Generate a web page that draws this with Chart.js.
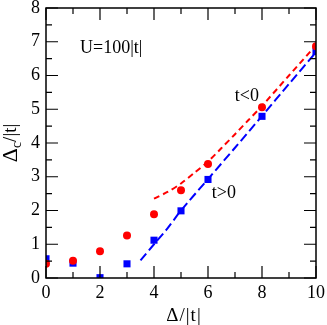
<!DOCTYPE html>
<html>
<head>
<meta charset="utf-8">
<script src="https://cdn.jsdelivr.net/npm/chart.js@4"></script>
<style>
  body { margin: 0; background: #fff; }
  #wrap { width: 327px; height: 325px; }
</style>
</head>
<body>
<div id="wrap"><canvas id="c" width="327" height="325"></canvas></div>
<script>
// data
const deltaPts = [0, 1, 2, 3, 4, 5, 6, 8, 10];
const negT = [0.42, 0.51, 0.79, 1.26, 1.89, 2.6, 3.38, 5.06, 6.87];   // t<0, red circles
const posT = [0.57, 0.44, 0.01, 0.42, 1.12, 1.99, 2.92, 4.79, 6.71];  // t>0, blue squares

const negCurveX = [4, 4.5, 5, 5.5, 6, 6.5, 7, 7.5, 8, 9, 10];
const negCurveY = [2.35, 2.55, 2.8, 3.12, 3.45, 3.85, 4.26, 4.68, 5.1, 6.0, 6.9];
const posCurveX = [3.5, 4, 4.5, 5, 6, 7, 8, 9, 10];
const posCurveY = [0.52, 1.0, 1.47, 2.0, 2.93, 3.86, 4.8, 5.75, 6.69];

const xTicks = [0, 2, 4, 6, 8, 10];
const yTicks = [0, 1, 2, 3, 4, 5, 6, 7, 8];
const xMinor = [1, 3, 5, 7, 9];
const yMinor = [0.5, 1.5, 2.5, 3.5, 4.5, 5.5, 6.5, 7.5];

const labels = [
  { text: "U=100|t|", x: 1.26, y: 6.81, align: "left" },
  { text: "t<0", x: 7.44, y: 5.39, align: "center" },
  { text: "t>0", x: 6.59, y: 2.52, align: "center" },
];

const FONT = "'Liberation Serif', 'DejaVu Serif', serif";

const toXY = (xs, ys) => xs.map((x, i) => ({ x: x, y: ys[i] }));

// frame, inward ticks, axis titles and text labels
const framePlugin = {
  id: "frame",
  afterDraw(chart) {
    const { ctx, chartArea: a, scales } = chart;
    const sx = scales.x, sy = scales.y;
    ctx.save();
    ctx.strokeStyle = "#000";
    ctx.lineWidth = 1.5;
    ctx.strokeRect(a.left, a.top, a.right - a.left, a.bottom - a.top);

    ctx.lineWidth = 1.2;
    ctx.beginPath();
    const tickX = (v, len) => {
      const px = sx.getPixelForValue(v);
      ctx.moveTo(px, a.bottom); ctx.lineTo(px, a.bottom - len);
      ctx.moveTo(px, a.top); ctx.lineTo(px, a.top + len);
    };
    const tickY = (v, len) => {
      const py = sy.getPixelForValue(v);
      ctx.moveTo(a.left, py); ctx.lineTo(a.left + len, py);
      ctx.moveTo(a.right, py); ctx.lineTo(a.right - len, py);
    };
    xTicks.forEach(v => tickX(v, 12));
    xMinor.forEach(v => tickX(v, 6));
    yTicks.forEach(v => tickY(v, 12));
    yMinor.forEach(v => tickY(v, 6));
    ctx.stroke();

    ctx.fillStyle = "#000";
    ctx.font = "18px " + FONT;
    ctx.textBaseline = "middle";
    labels.forEach(l => {
      ctx.textAlign = l.align;
      ctx.fillText(l.text, sx.getPixelForValue(l.x), sy.getPixelForValue(l.y));
    });

    // x title
    ctx.textAlign = "center";
    ctx.font = "19px " + FONT;
    ctx.letterSpacing = "1px";
    ctx.fillText("\u0394/|t|", 184, 316);
    ctx.letterSpacing = "0px";

    // y title with subscript c
    ctx.translate(11, (a.top + a.bottom) / 2);
    ctx.rotate(-Math.PI / 2);
    ctx.textAlign = "left";
    const p1 = "\u0394", p2 = "c", p3 = "/|t|";
    ctx.font = "22px " + FONT;
    const w1 = ctx.measureText(p1).width;
    ctx.font = "19px " + FONT;
    const w3 = ctx.measureText(p3).width;
    ctx.font = "14px " + FONT;
    const w2 = ctx.measureText(p2).width;
    let x0 = -(w1 + w2 + w3) / 2;
    ctx.font = "22px " + FONT;
    ctx.fillText(p1, x0, 0);
    ctx.font = "14px " + FONT;
    ctx.fillText(p2, x0 + w1, 6);
    ctx.font = "19px " + FONT;
    ctx.fillText(p3, x0 + w1 + w2, 0);
    ctx.restore();
  },
};

new Chart(document.getElementById("c"), {
  type: "scatter",
  data: {
    datasets: [
      {
        label: "t<0 fit",
        data: toXY(negCurveX, negCurveY),
        showLine: true,
        borderColor: "#ff0000",
        borderWidth: 2,
        borderDash: [6, 4],
        pointRadius: 0,
        tension: 0.3,
      },
      {
        label: "t>0 fit",
        data: toXY(posCurveX, posCurveY),
        showLine: true,
        borderColor: "#0000ff",
        borderWidth: 2,
        borderDash: [9, 4],
        pointRadius: 0,
        tension: 0.3,
      },
      {
        label: "t<0",
        data: toXY(deltaPts, negT),
        pointStyle: "circle",
        pointRadius: 4,
        backgroundColor: "#ff0000",
        borderColor: "#ff0000",
        borderWidth: 0,
      },
      {
        label: "t>0",
        data: toXY(deltaPts, posT),
        pointStyle: "rect",
        pointRadius: 5,
        backgroundColor: "#0000ff",
        borderColor: "#0000ff",
        borderWidth: 0,
      },
    ],
  },
  options: {
    responsive: false,
    animation: false,
    layout: { padding: { left: 0, right: 11, top: 8, bottom: 0 } },
    plugins: {
      legend: { display: false },
      tooltip: { enabled: false },
    },
    scales: {
      x: {
        type: "linear",
        min: 0,
        max: 10,
        afterFit: (s) => { s.height = 47; s.paddingLeft = 0; s.paddingRight = 0; },
        afterBuildTicks: (s) => { s.ticks = xTicks.map(v => ({ value: v })); },
        grid: { display: false, drawTicks: false },
        border: { display: false },
        ticks: {
          color: "#000",
          padding: 4,
          font: { family: FONT, size: 18 },
        },
      },
      y: {
        type: "linear",
        min: 0,
        max: 8,
        afterFit: (s) => { s.width = 46; s.paddingTop = 0; s.paddingBottom = 0; },
        afterBuildTicks: (s) => { s.ticks = yTicks.map(v => ({ value: v })); },
        grid: { display: false, drawTicks: false },
        border: { display: false },
        ticks: {
          color: "#000",
          padding: 6,
          font: { family: FONT, size: 18 },
        },
      },
    },
  },
  plugins: [framePlugin],
});
</script>
</body>
</html>
